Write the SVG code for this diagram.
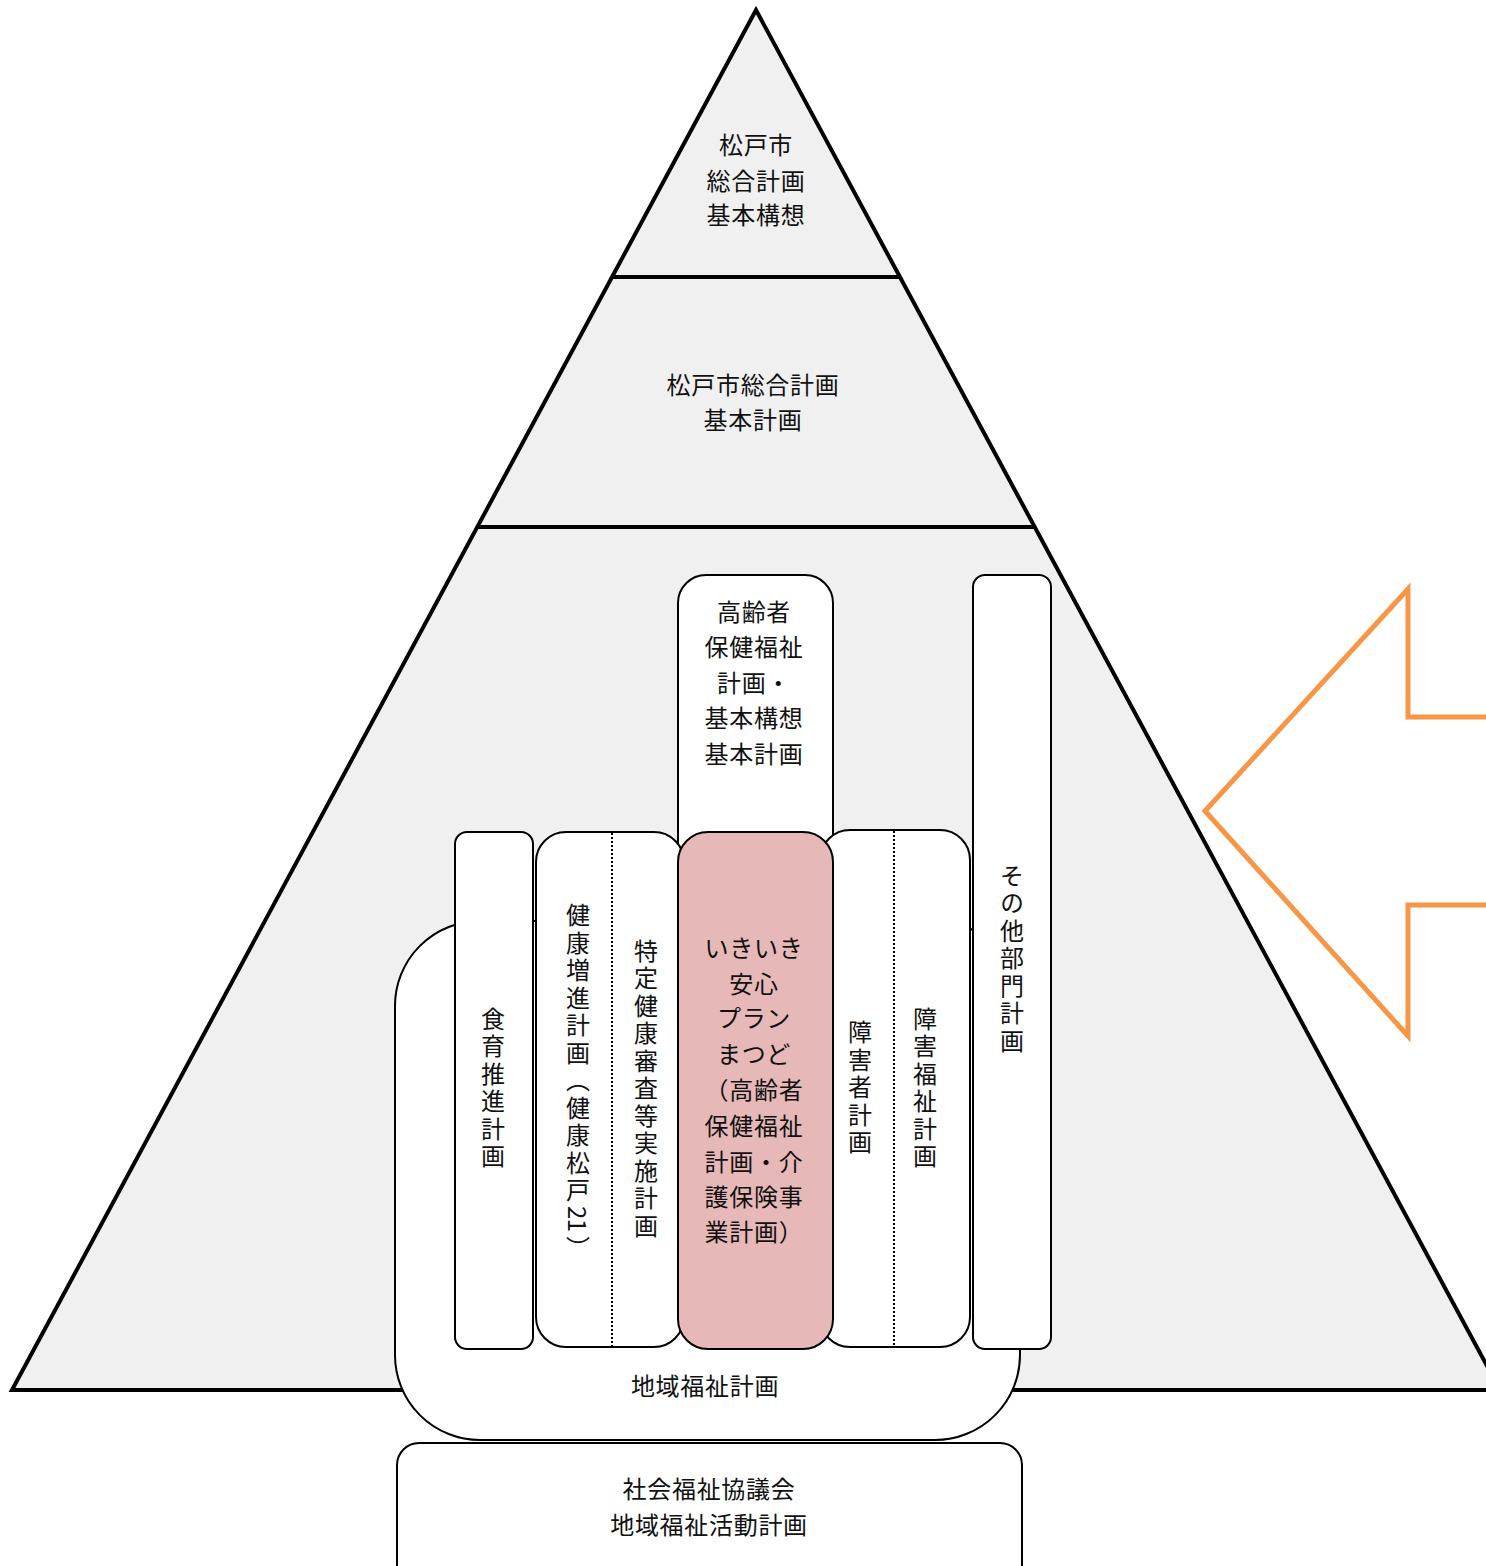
<svg xmlns="http://www.w3.org/2000/svg" width="1486" height="1566" viewBox="0 0 1486 1566">
<style>
.t{font-family:"Noto Sans CJK JP","Noto Sans CJK SC",sans-serif;font-size:24px;fill:#111;text-anchor:middle;letter-spacing:0.7px}
.v{font-family:"Noto Sans CJK JP","Noto Sans CJK SC",sans-serif;font-size:24px;fill:#111;text-anchor:middle;writing-mode:vertical-rl;letter-spacing:3.5px}
.box{fill:#fff;stroke:#000;stroke-width:2}
.dot{stroke:#000;stroke-width:2;stroke-dasharray:2 2;fill:none}
</style>
<g id="pyramid">
<polygon points="756,10 12,1390 1500,1390" fill="#f0f0f0" stroke="#000" stroke-width="4" stroke-linejoin="miter"/>
<line x1="612" y1="277" x2="900" y2="277" stroke="#000" stroke-width="4"/>
<line x1="477" y1="527" x2="1035" y2="527" stroke="#000" stroke-width="4"/>
<text class="t" x="756" y="154">松戸市</text>
<text class="t" x="756" y="190">総合計画</text>
<text class="t" x="756" y="224">基本構想</text>
<text class="t" x="753" y="394">松戸市総合計画</text>
<text class="t" x="753" y="429">基本計画</text>
</g>
<g id="chiiki">
<rect class="box" x="395" y="921" width="625" height="519" rx="85" ry="85"/>
<text class="t" x="705" y="1395">地域福祉計画</text>
</g>
<g id="shakyo">
<rect class="box" x="397" y="1443" width="625" height="150" rx="22" ry="22"/>
<text class="t" x="709" y="1498">社会福祉協議会</text>
<text class="t" x="709" y="1534">地域福祉活動計画</text>
</g>
<g id="koreisha">
<rect class="box" x="678" y="575" width="155" height="300" rx="28" ry="28"/>
<text class="t" x="754" y="621">高齢者</text>
<text class="t" x="754" y="656">保健福祉</text>
<text class="t" x="754" y="692">計画・</text>
<text class="t" x="754" y="727">基本構想</text>
<text class="t" x="754" y="763">基本計画</text>
</g>
<g id="sonota">
<rect class="box" x="973" y="575" width="78" height="774" rx="12" ry="12"/>
<text class="v" x="1012" y="960">その他部門計画</text>
</g>
<g id="shokuiku">
<rect class="box" x="455" y="832" width="78" height="517" rx="12" ry="12"/>
<text class="v" x="493" y="1089">食育推進計画</text>
</g>
<g id="kenko">
<rect class="box" x="536" y="832" width="148" height="515" rx="30" ry="30"/>
<line class="dot" x1="612" y1="833" x2="612" y2="1346"/>
<text class="v" x="578" y="1083">健康増進計画（健康松戸<tspan style="letter-spacing:0">2</tspan>1）</text>
<text class="v" x="646" y="1090">特定健康審査等実施計画</text>
</g>
<g id="shogai">
<rect class="box" x="820" y="830" width="150" height="517" rx="30" ry="30"/>
<line class="dot" x1="894" y1="831" x2="894" y2="1346"/>
<text class="v" x="860" y="1089">障害者計画</text>
<text class="v" x="925" y="1089">障害福祉計画</text>
</g>
<g id="ikiiki">
<rect x="678" y="832" width="155" height="517" rx="30" ry="30" fill="#e6b8b7" stroke="#000" stroke-width="2"/>
<text class="t" x="754" y="957">いきいき</text>
<text class="t" x="754" y="993">安心</text>
<text class="t" x="754" y="1027">プラン</text>
<text class="t" x="754" y="1063">まつど</text>
<text class="t" x="754" y="1099">（高齢者</text>
<text class="t" x="754" y="1135">保健福祉</text>
<text class="t" x="754" y="1171">計画・介</text>
<text class="t" x="754" y="1206">護保険事</text>
<text class="t" x="754" y="1241">業計画）</text>
</g>
<g id="connectors">
<polygon points="1205,811 1408,589 1408,717 1500,717 1500,905 1408,905 1408,1036" fill="#fff" stroke="#f79646" stroke-width="5" stroke-linejoin="miter"/>
</g>
</svg>
